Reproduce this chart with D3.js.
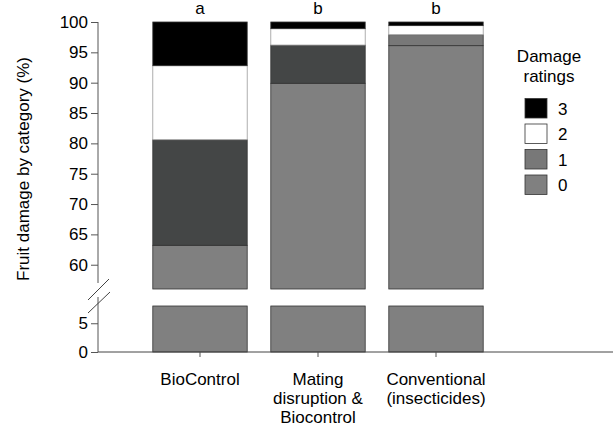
<!DOCTYPE html>
<html>
<head>
<meta charset="utf-8">
<script src="https://cdn.jsdelivr.net/npm/d3@7"></script>
<style>
  body { margin: 0; background: #fff; }
  text { font-family: "Liberation Sans", Arial, sans-serif; fill: #000; }
</style>
</head>
<body>
<div id="chart"></div>
<script>
// data
var categories = ["BioControl", "Mating disruption & Biocontrol", "Conventional (insecticides)"];
var catLines = [["BioControl"], ["Mating", "disruption &", "Biocontrol"], ["Conventional", "(insecticides)"]];
var letters = ["a", "b", "b"];
var rating0 = [63.2, 89.9, 96.1];
var rating1 = [17.4, 6.3, 1.8];
var rating2 = [12.2, 2.7, 1.5];
var rating3 = [7.2, 1.1, 0.6];
var ratingKeys = ["0", "1", "2", "3"];
var topTicks = [60, 65, 70, 75, 80, 85, 90, 95, 100];
var bottomTicks = [0, 5];

var w = 613, h = 433;
var fills = { "0": "#808080", "1": "#444646", "2": "#ffffff", "3": "#000000" };
var legendFills = { "0": "#808080", "1": "#787878", "2": "#ffffff", "3": "#000000" };

var rows = categories.map(function (c, i) {
  return { cat: c, "0": rating0[i], "1": rating1[i], "2": rating2[i], "3": rating3[i] };
});

var svg = d3.select("#chart").append("svg")
  .attr("width", w)
  .attr("height", h);

var x = d3.scaleBand().domain(categories).range([141, 495])
  .paddingInner(0.2).paddingOuter(0.1);
var yTop = d3.scaleLinear().domain([56, 100]).range([289, 22]);
var yBot = d3.scaleLinear().domain([0, 8]).range([352, 306]);

var series = d3.stack().keys(ratingKeys)(rows);

// bars, upper and lower panel
var g = svg.append("g");
series.forEach(function (s) {
  s.forEach(function (d, i) {
    var cat = categories[i];
    var fill = fills[s.key];
    if (s.key == "1" && i == 2) fill = "#787878";
    var stroke = s.key == "2" ? "#999" : "#333";
    if (d[1] > 56) {
      var lo = Math.max(d[0], 56);
      g.append("rect")
        .attr("x", x(cat))
        .attr("y", yTop(d[1]))
        .attr("width", x.bandwidth())
        .attr("height", yTop(lo) - yTop(d[1]))
        .attr("fill", fill)
        .attr("stroke", stroke)
        .attr("stroke-width", 0.8);
    }
    if (d[0] < 8) {
      var hi = Math.min(d[1], 8);
      g.append("rect")
        .attr("x", x(cat))
        .attr("y", yBot(hi))
        .attr("width", x.bandwidth())
        .attr("height", yBot(d[0]) - yBot(hi))
        .attr("fill", fill)
        .attr("stroke", stroke)
        .attr("stroke-width", 0.8);
    }
  });
});

// y axes
var axTop = svg.append("g").attr("transform", "translate(98,0)")
  .call(d3.axisLeft(yTop).tickValues(topTicks).tickSize(7).tickPadding(3));
var axBot = svg.append("g").attr("transform", "translate(98,0)")
  .call(d3.axisLeft(yBot).tickValues(bottomTicks).tickSize(7).tickPadding(3));
[axTop, axBot].forEach(function (a) {
  a.select(".domain").remove();
  a.selectAll("line").attr("stroke", "#555");
  a.selectAll("text").attr("font-size", "17px")
    .style("font-family", "'Liberation Sans', Arial, sans-serif");
});
svg.append("line").attr("x1", 98).attr("x2", 98)
  .attr("y1", yTop(100)).attr("y2", 283).attr("stroke", "#555");
svg.append("line").attr("x1", 98).attr("x2", 98)
  .attr("y1", 297).attr("y2", yBot(0)).attr("stroke", "#555");
// break marks
svg.append("line").attr("x1", 88).attr("y1", 300).attr("x2", 109).attr("y2", 279)
  .attr("stroke", "#444");
svg.append("line").attr("x1", 88).attr("y1", 313).attr("x2", 110).attr("y2", 292)
  .attr("stroke", "#444");

// x axis
var axX = svg.append("g").attr("transform", "translate(0," + yBot(0) + ")")
  .call(d3.axisBottom(x).tickSize(5).tickFormat(""));
axX.select(".domain").remove();
axX.selectAll("line").attr("stroke", "#555");
svg.append("line").attr("x1", 98).attr("x2", w)
  .attr("y1", yBot(0)).attr("y2", yBot(0)).attr("stroke", "#444");

// category labels
categories.forEach(function (c, i) {
  var t = svg.append("text")
    .attr("x", x(c) + x.bandwidth() / 2)
    .attr("y", 385)
    .attr("text-anchor", "middle")
    .attr("font-size", "17px");
  catLines[i].forEach(function (line, j) {
    t.append("tspan").attr("x", x(c) + x.bandwidth() / 2)
      .attr("dy", j == 0 ? 0 : 19).text(line);
  });
  svg.append("text")
    .attr("x", x(c) + x.bandwidth() / 2)
    .attr("y", 14)
    .attr("text-anchor", "middle")
    .attr("font-size", "17px")
    .text(letters[i]);
});

// y title
svg.append("text")
  .attr("transform", "translate(29,169) rotate(-90)")
  .attr("text-anchor", "middle")
  .attr("font-size", "17px")
  .text("Fruit damage by category (%)");

// legend
svg.append("text").attr("x", 549).attr("y", 62).attr("text-anchor", "middle")
  .attr("font-size", "17px").text("Damage");
svg.append("text").attr("x", 549).attr("y", 82).attr("text-anchor", "middle")
  .attr("font-size", "17px").text("ratings");
var legKeys = ratingKeys.slice().reverse();
var leg = svg.selectAll(".leg")
  .data(legKeys)
  .enter()
  .append("g")
  .attr("class", "leg")
  .attr("transform", function (d, i) { return "translate(525," + (98.5 + i * 25.5) + ")"; });
leg.append("rect")
  .attr("width", 22).attr("height", 19.5)
  .attr("fill", function (d) { return legendFills[d]; })
  .attr("stroke", "#333").attr("stroke-width", 0.8);
leg.append("text")
  .attr("x", 33).attr("y", 16)
  .attr("font-size", "17px")
  .text(function (d) { return d; });
</script>
</body>
</html>
